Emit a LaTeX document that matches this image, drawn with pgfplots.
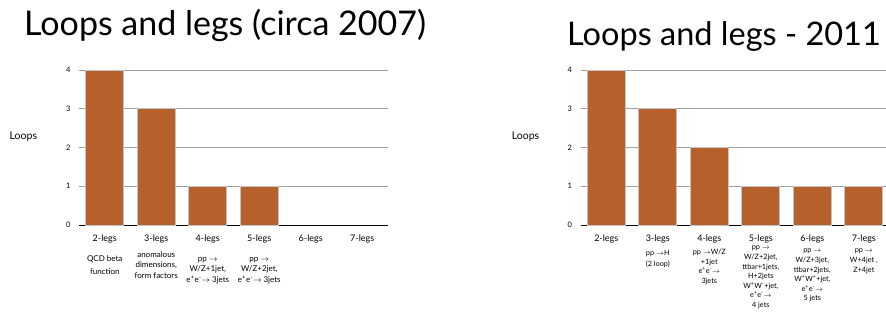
\documentclass[border=0pt]{standalone}
\usepackage{pgfplots}
\pgfplotsset{compat=1.18}
\usepackage{fontspec}
\setmainfont{Lato}
\definecolor{wood}{RGB}{182,96,44}
\definecolor{woodedge}{RGB}{196,196,196}
\definecolor{gridgray}{RGB}{160,160,160}
\newcommand{\ep}{e\textsuperscript{+}e\textsuperscript{-}}
\pgfplotsset{loopstyle/.style={
  scale only axis, height=155pt, anchor=south west,
  ymin=0, ymax=4, xmin=-0.5,
  ytick={0,1,2,3,4}, xtick={0,1,2,3,4,5},
  xticklabels={2-legs,3-legs,4-legs,5-legs,6-legs,7-legs},
  ymajorgrids, major grid style={gridgray, line width=0.8pt},
  axis x line*=bottom, axis y line*=left,
  y axis line style={draw=none}, x axis line style={black, line width=1pt, -},
  tick style={draw=none},
  yticklabel style={font=\fontsize{7.5}{8}\selectfont, xshift=-5pt},
  xticklabel style={font=\fontsize{9}{10}\selectfont, yshift=-2pt},
  ylabel={Loops},
  ylabel style={rotate=-90, font=\fontsize{10.5}{11}\selectfont, at={(axis description cs:-0.18,0.57)}, anchor=center},
  /pgf/number format/assume math mode=true,
  clip=false,
  ybar, bar width=0.74,
}}
\begin{document}
\begin{tikzpicture}[x=1pt,y=1pt]
\path[use as bounding box] (0,0) rectangle (886,314);
\node[anchor=base west, font=\fontsize{34}{34}\selectfont, inner sep=0] at (24,278) {Loops and legs (circa 2007)};
\node[anchor=base west, font=\fontsize{32.5}{33}\selectfont, inner sep=0] at (567,268) {Loops and legs - 2011};

\begin{axis}[loopstyle, at={(79pt,89pt)}, width=309pt, xmax=5.5]
\addplot[fill=wood, draw=woodedge, line width=0.9pt] coordinates {(0,4) (1,3) (2,1) (3,1)};
\begin{scope}[every node/.style={anchor=north, align=center, inner sep=0, font=\fontsize{8}{10.5}\selectfont}]
\node[font=\fontsize{8}{13}\selectfont] at (axis cs:0,0) [yshift=-30pt] {QCD beta\\function};
\node at (axis cs:1,0) [yshift=-26pt] {anomalous\\dimensions,\\form factors};
\node at (axis cs:2,0) [yshift=-32pt] {pp $\to$\\W/Z+1jet,\\\ep$\to$ 3jets};
\node at (axis cs:3,0) [yshift=-32pt] {pp $\to$\\W/Z+2jet,\\\ep$\to$ 3jets};
\end{scope}
\end{axis}

\begin{axis}[loopstyle, at={(580.5pt,89pt)}, width=305.5pt, xmax=5.43]
\addplot[fill=wood, draw=woodedge, line width=0.9pt] coordinates {(0,4) (1,3) (2,2) (3,1) (4,1) (5,1)};
\begin{scope}[every node/.style={anchor=north, align=center, inner sep=0, font=\fontsize{7.3}{9.6}\selectfont}]
\node[font=\fontsize{7.3}{11}\selectfont] at (axis cs:1,0) [yshift=-25pt] {pp $\to$H\\(2 loop)};
\node at (axis cs:2,0) [yshift=-24pt] {pp $\to$W/Z\\+1jet\\\ep$\to$\\3jets};
\node at (axis cs:3,0) [yshift=-21pt] {pp $\to$\\W/Z+2jet,\\ttbar+1jets,\\H+2jets\\W\textsuperscript{+}W\textsuperscript{-}+jet,\\\ep$\to$\\4 jets};
\node at (axis cs:4,0) [yshift=-24pt] {pp $\to$\\W/Z+3jet,\\ttbar+2jets,\\W\textsuperscript{+}W\textsuperscript{+}+jet,\\\ep$\to$\\5 jets};
\node at (axis cs:5,0) [yshift=-24pt] {pp $\to$\\W+4jet ,\\Z+4jet};
\end{scope}
\end{axis}
\end{tikzpicture}
\end{document}
